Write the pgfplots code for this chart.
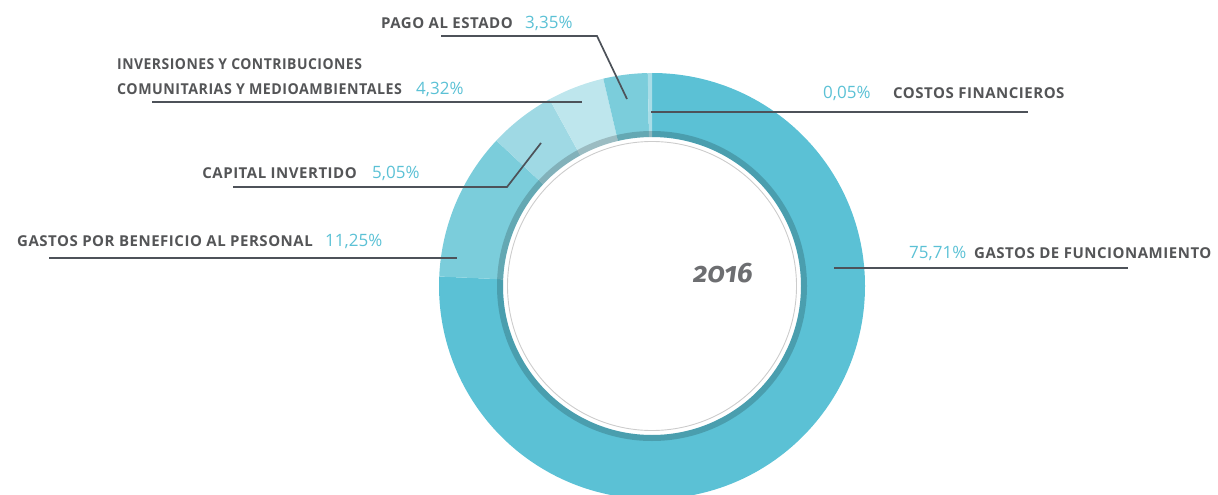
\documentclass[border=0pt]{standalone}
\usepackage{fontspec}
\setmainfont{Open Sans}
\newfontfamily\labfont[LetterSpace=3.5]{Open Sans}
\newfontfamily\yearfont[Numbers=OldStyle]{Fira Sans}
\usepackage{pgfplots}
\pgfplotsset{compat=1.18}
\usepackage{pgfplotstable}
\definecolor{cmain}{HTML}{5BC1D5}
\definecolor{cmid}{HTML}{7BCDDB}
\definecolor{clight}{HTML}{9FD9E4}
\definecolor{cpale}{HTML}{BEE6ED}
\definecolor{cthin}{HTML}{A9DDE7}
\definecolor{ctext}{HTML}{545557}
\definecolor{cline}{HTML}{4D5259}
\definecolor{cpct}{HTML}{5BC1D5}
\definecolor{cyear}{HTML}{6D6E71}
\pgfplotstableread{
label value col
Funcionamiento 75.71 cmain
Beneficio 11.25 cmid
Capital 5.05 clight
Inversiones 4.32 cpale
Pago 3.35 cmid
Costos 0.05 cthin
}\donut
\begin{document}%
\gdef\cum{0}%
\foreach \i in {0,...,5}{%
  \pgfplotstablegetelem{\i}{value}\of\donut \let\v\pgfplotsretval
  \pgfplotstablegetelem{\i}{col}\of\donut
  \expandafter\xdef\csname col\i\endcsname{\pgfplotsretval}%
  \pgfmathsetmacro\s{90-3.6*\cum}%
  \pgfmathsetmacro\newcum{\cum+\v}%
  \xdef\cum{\newcum}%
  \pgfmathsetmacro\e{90-3.6*\cum}%
  \ifnum\i=5 \def\e{-270}\fi
  \expandafter\xdef\csname sa\i\endcsname{\s}%
  \expandafter\xdef\csname ea\i\endcsname{\e}%
}%
\begin{tikzpicture}
\begin{axis}[
  width=1218pt, height=495pt, scale only axis,
  xmin=0, xmax=1218, ymin=0, ymax=495, y dir=reverse,
  hide axis, clip=true,
]
\path (axis cs:0,0) rectangle (axis cs:1218,495);
\pgfplotsinvokeforeach{0,...,5}{
  \fill[color=\csname col#1\endcsname]
    (axis cs:652,286) ++(\csname sa#1\endcsname:213pt)
    arc[start angle=\csname sa#1\endcsname, end angle=\csname ea#1\endcsname, radius=213pt]
    -- ++(\csname ea#1\endcsname:-64pt)
    arc[start angle=\csname ea#1\endcsname, end angle=\csname sa#1\endcsname, radius=149pt]
    -- cycle;
}
\fill[black, opacity=0.18, even odd rule]
  (axis cs:652,286) circle[radius=155pt] (axis cs:652,286) circle[radius=149pt];
\draw[black!20, line width=0.9pt] (axis cs:652,286) circle[radius=144.5pt];
% leader lines
\draw[cline, line width=1.7pt] (axis cs:441,36) -- (axis cs:597,36) -- (axis cs:627,99);
\draw[cline, line width=1.7pt] (axis cs:152,102) -- (axis cs:582,102);
\draw[cline, line width=1.7pt] (axis cs:651,112) -- (axis cs:1028,112);
\draw[cline, line width=1.7pt] (axis cs:233,187) -- (axis cs:507,187) -- (axis cs:541,143);
\draw[cline, line width=1.7pt] (axis cs:49,258) -- (axis cs:457,258);
\draw[cline, line width=1.7pt] (axis cs:834,268) -- (axis cs:1128,268);
% labels
\tikzset{lab/.style={text=ctext, font=\labfont\fontsize{15}{17}\selectfont\bfseries, inner sep=0pt},
         pct/.style={text=cpct, font=\fontsize{17}{19}\selectfont\mdseries, inner sep=0pt}}
\node[lab, anchor=base east] at (axis cs:513,29) {PAGO AL ESTADO};
\node[pct, anchor=base west] at (axis cs:525,29) {3,35\%};
\node[lab, anchor=base west] at (axis cs:117,70) {\scalebox{0.93}[1]{INVERSIONES Y CONTRIBUCIONES}};
\node[lab, anchor=base west] at (axis cs:117,94) {\scalebox{0.947}[1]{COMUNITARIAS Y MEDIOAMBIENTALES}};
\node[pct, anchor=base west] at (axis cs:416,94) {4,32\%};
\node[pct, anchor=base west] at (axis cs:823,98) {0,05\%};
\node[lab, anchor=base west] at (axis cs:893,98) {COSTOS FINANCIEROS};
\node[lab, anchor=base east] at (axis cs:357,178) {CAPITAL INVERTIDO};
\node[pct, anchor=base west] at (axis cs:372,178) {5,05\%};
\node[lab, anchor=base west] at (axis cs:17,246) {GASTOS POR BENEFICIO AL PERSONAL};
\node[pct, anchor=base west] at (axis cs:325,246) {11,25\%};
\node[pct, anchor=base west] at (axis cs:909,258) {75,71\%};
\node[lab, anchor=base west] at (axis cs:974,258) {GASTOS DE FUNCIONAMIENTO};
\node[text=cyear, font=\yearfont\fontsize{28}{30}\selectfont\bfseries\itshape, anchor=base, inner sep=0pt] at (axis cs:723,282) {2016};
\end{axis}
\end{tikzpicture}%
\end{document}
